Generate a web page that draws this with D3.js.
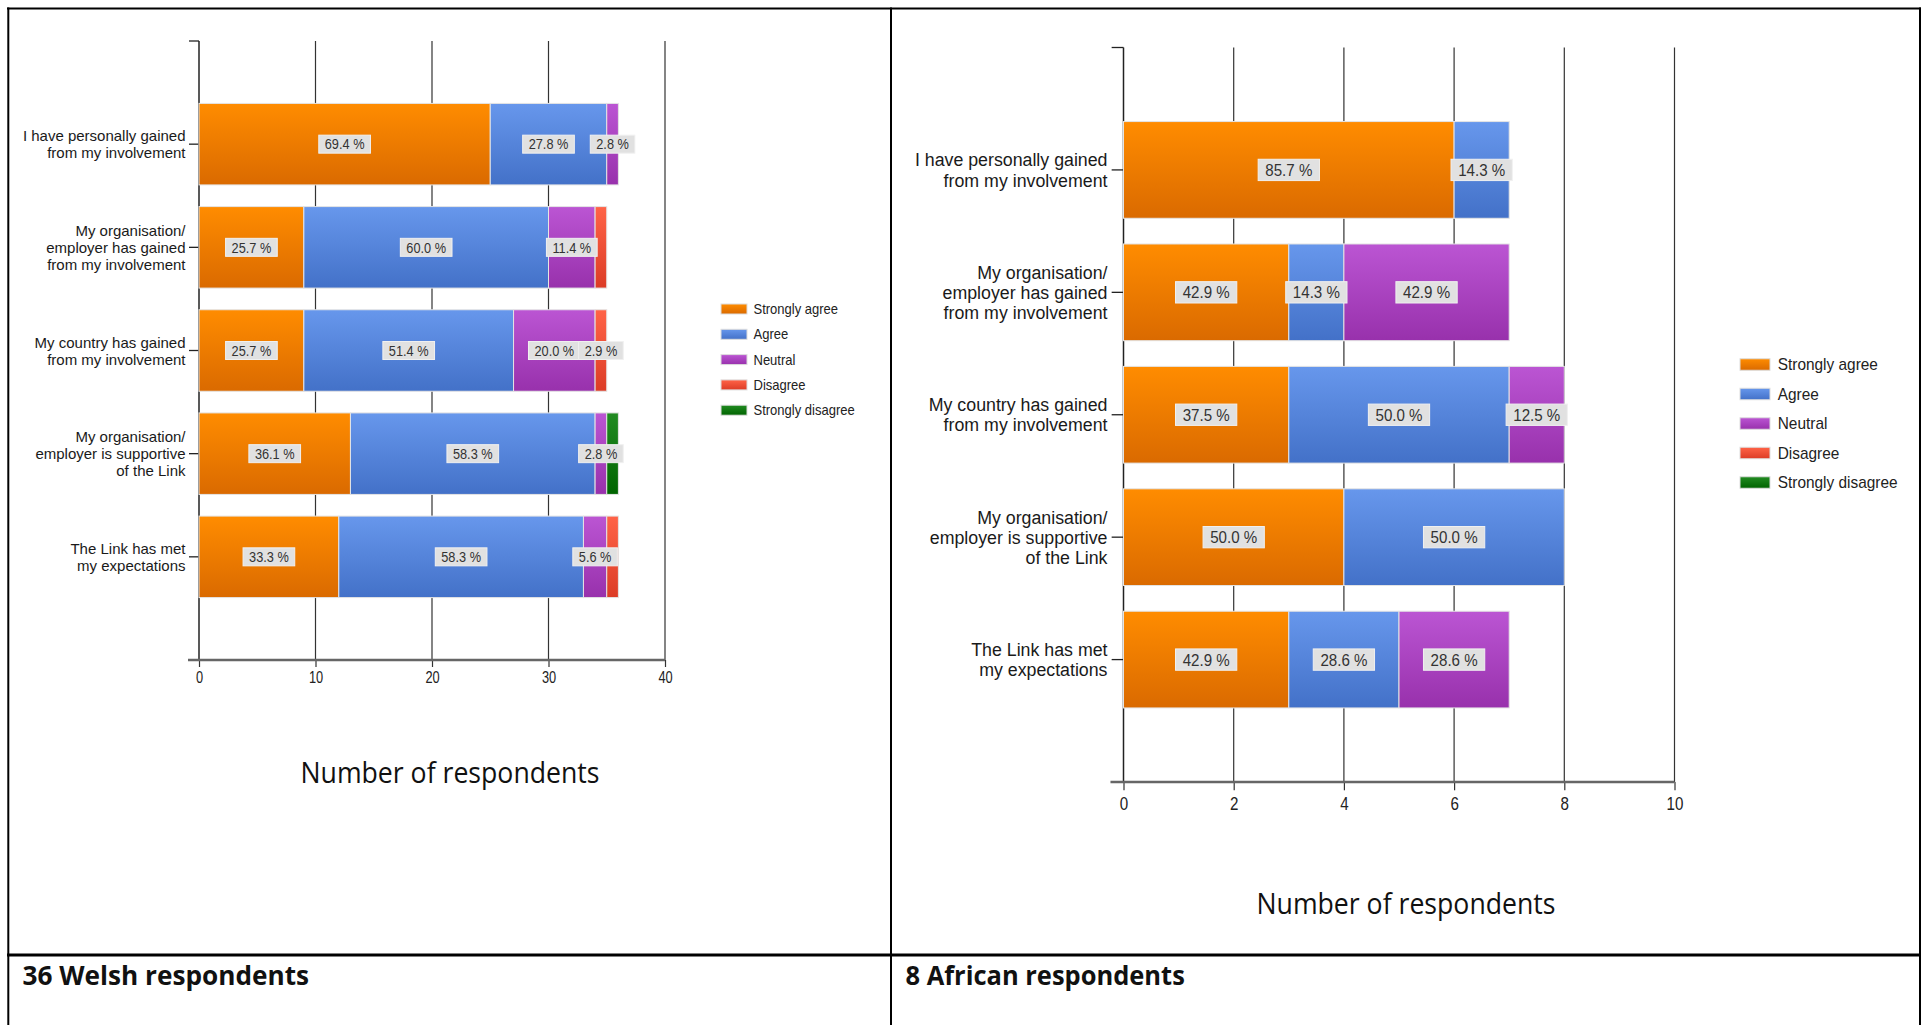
<!DOCTYPE html>
<html>
<head>
<meta charset="utf-8">
<script src="https://cdn.jsdelivr.net/npm/d3@7"></script>
<style>
  body { margin: 0; background: #fff; }
  svg { display: block; }
</style>
</head>
<body>
<div id="chart"></div>
<script>
// ---- data ----
var statements = [
  ["I have personally gained", "from my involvement"],
  ["My organisation/", "employer has gained", "from my involvement"],
  ["My country has gained", "from my involvement"],
  ["My organisation/", "employer is supportive", "of the Link"],
  ["The Link has met", "my expectations"]
];
var responses = ["Strongly agree", "Agree", "Neutral", "Disagree", "Strongly disagree"];

// respondents per statement, in the order of `responses`
var welshCounts = [
  [25, 10, 1, 0, 0],
  [9, 21, 4, 1, 0],
  [9, 18, 7, 1, 0],
  [13, 21, 1, 0, 1],
  [12, 21, 2, 1, 0]
];
var africanCounts = [
  [6, 1, 0, 0, 0],
  [3, 1, 3, 0, 0],
  [3, 4, 1, 0, 0],
  [4, 4, 0, 0, 0],
  [3, 2, 2, 0, 0]
];
var welshTicks = [0, 10, 20, 30, 40];
var africanTicks = [0, 2, 4, 6, 8, 10];
var panelTitles = ["36 Welsh respondents", "8 African respondents"];
var axisTitle = "Number of respondents";

// colours (top / bottom of the gradient)
var topColors = ["#ff8c00", "#6797ec", "#bb55d3", "#ff6347", "#228b22"];
var bottomColors = ["#da6a00", "#4371c8", "#9831ac", "#dc3c26", "#006400"];

var FONT = "'Liberation Sans', Arial, sans-serif";

var svg = d3.select("#chart").append("svg")
  .attr("width", 1925)
  .attr("height", 1025);

var defs = svg.append("defs");
responses.forEach(function(r, i) {
  var grad = defs.append("linearGradient")
    .attr("id", "grad" + i)
    .attr("x1", 0).attr("y1", 0).attr("x2", 0).attr("y2", 1);
  grad.append("stop").attr("offset", "0%").attr("stop-color", topColors[i]);
  grad.append("stop").attr("offset", "100%").attr("stop-color", bottomColors[i]);
});

// squeezed text helper: the source glyphs are a bit narrow
function label(g, x, y, str, size, sx, anchor) {
  return g.append("text")
    .attr("transform", "translate(" + x + "," + y + ") scale(" + sx + ",1)")
    .attr("text-anchor", anchor || "start")
    .style("font-family", FONT)
    .style("font-size", size + "px")
    .attr("fill", "#222")
    .text(str);
}

function drawPanel(cfg) {
  var k = cfg.k;
  var g = svg.append("g");

  var x = d3.scaleLinear()
    .domain([cfg.ticks[0], cfg.ticks[cfg.ticks.length - 1]])
    .range([cfg.x0, cfg.x1]);
  // one empty slot above and below the five bars
  var y = d3.scaleLinear()
    .domain([0, statements.length + 1])
    .range([cfg.top, cfg.bottom]);
  var barH = (y(1) - y(0)) * 0.79;

  // vertical grid lines
  g.append("g").selectAll("line")
    .data(cfg.ticks.slice(1))
    .join("line")
      .attr("x1", function(d) { return x(d); })
      .attr("x2", function(d) { return x(d); })
      .attr("y1", cfg.top)
      .attr("y2", cfg.bottom)
      .attr("stroke", "#333")
      .attr("stroke-width", 1.2);

  // x axis, ticks + labels
  var xAxis = g.append("g")
    .attr("transform", "translate(0," + cfg.bottom + ")")
    .call(d3.axisBottom(x).tickValues(cfg.ticks).tickSize(7 * k).tickPadding(5 * k));
  xAxis.select(".domain").remove();
  xAxis.selectAll(".tick line").attr("stroke", "#333").attr("stroke-width", 1.2);
  xAxis.selectAll(".tick text")
    .attr("transform", "scale(0.8,1)")
    .attr("fill", "#222")
    .style("font-family", FONT)
    .style("font-size", (16 * k) + "px");

  // y axis line and ticks
  g.append("line")
    .attr("x1", cfg.x0).attr("x2", cfg.x0)
    .attr("y1", cfg.top).attr("y2", cfg.bottom)
    .attr("stroke", "#222").attr("stroke-width", 1.5);
  g.append("g").selectAll("line")
    .data(d3.range(0, statements.length + 1))
    .join("line")
      .attr("x1", cfg.x0 - 10 * k).attr("x2", cfg.x0)
      .attr("y1", function(d) { return y(d); })
      .attr("y2", function(d) { return y(d); })
      .attr("stroke", "#222").attr("stroke-width", 1.3);

  // category labels
  statements.forEach(function(lines, i) {
    var cy = y(i + 1);
    var lh = 17 * k;
    lines.forEach(function(line, j) {
      label(g, cfg.x0 - 13.5 * k, cy + (j - (lines.length - 1) / 2) * lh + 5.5 * k,
        line, 15 * k, 1, "end").attr("fill", "#1a1a1a");
    });
  });

  // stacked bars
  var rows = cfg.counts.map(function(c, i) { return { idx: i, c: c, total: d3.sum(c) }; });
  var series = d3.stack()
    .keys(d3.range(responses.length))
    .value(function(d, key) { return d.c[key]; })(rows);

  g.append("g").selectAll("g")
    .data(series)
    .join("g")
      .attr("fill", function(s) { return "url(#grad" + s.key + ")"; })
    .selectAll("rect")
    .data(function(s) { return s.filter(function(d) { return d[1] > d[0]; }); })
    .join("rect")
      .attr("x", function(d) { return x(d[0]); })
      .attr("y", function(d) { return y(d.data.idx + 1) - barH / 2; })
      .attr("width", function(d) { return x(d[1]) - x(d[0]); })
      .attr("height", barH)
      .attr("stroke", "#e4e4e4")
      .attr("stroke-width", 1);

  // percentage labels, skipped when they would collide with the previous one
  var lab = g.append("g");
  rows.forEach(function(row) {
    var lastRight = -Infinity;
    var cy = y(row.idx + 1);
    series.forEach(function(s) {
      var d = s[row.idx];
      if (d[1] <= d[0]) return;
      var txt = (row.c[s.key] / row.total * 100).toFixed(1) + " %";
      var cx = (x(d[0]) + x(d[1])) / 2;
      var box = lab.append("rect");
      var t = label(lab, cx, cy + 5.2 * k, txt, 14.5 * k, 0.88, "middle").attr("fill", "#333");
      var w = t.node().getComputedTextLength() * 0.88 + 12 * k;
      var bh = 18 * k;
      if (cx - w / 2 < lastRight - 5 * k) { box.remove(); t.remove(); return; }
      lastRight = cx + w / 2;
      box.attr("x", cx - w / 2).attr("y", cy - bh / 2)
        .attr("width", w).attr("height", bh)
        .attr("fill", "#e1e1e1").attr("stroke", "#f0f0f0").attr("stroke-width", 1);
      t.raise();
    });
  });

  // heavy x axis baseline
  g.append("line")
    .attr("x1", cfg.x0 - 11 * k).attr("x2", cfg.x1)
    .attr("y1", cfg.bottom).attr("y2", cfg.bottom)
    .attr("stroke", "#666").attr("stroke-width", 2.5);

  // legend
  var leg = g.append("g");
  responses.forEach(function(r, i) {
    var ly = cfg.legY + i * cfg.legStep;
    leg.append("rect")
      .attr("x", cfg.legX).attr("y", ly - cfg.swH / 2)
      .attr("width", cfg.swW).attr("height", cfg.swH)
      .attr("fill", "url(#grad" + i + ")")
      .attr("stroke", "#ddd").attr("stroke-width", 1);
    label(leg, cfg.legX + cfg.swW + 6.5 * k, ly + 5 * k, r, 14 * k, 0.93, "start");
  });

  // axis title
  svg.append("text")
    .attr("x", cfg.titleX).attr("y", cfg.titleY)
    .attr("text-anchor", "middle")
    .attr("textLength", 299).attr("lengthAdjust", "spacingAndGlyphs")
    .style("font-family", "'Open Sans', 'Noto Sans', sans-serif")
    .style("font-size", "29px")
    .attr("fill", "#111")
    .text(axisTitle);
}

drawPanel({
  k: 1, counts: welshCounts, ticks: welshTicks,
  x0: 199, x1: 665, top: 41, bottom: 660,
  legX: 721, legY: 309, legStep: 25.3, swW: 26, swH: 10,
  titleX: 450, titleY: 782.5
});
drawPanel({
  k: 1.185, counts: africanCounts, ticks: africanTicks,
  x0: 1123.5, x1: 1674.5, top: 47.5, bottom: 782,
  legX: 1740, legY: 364.5, legStep: 29.5, swW: 30, swH: 11.5,
  titleX: 1406, titleY: 914.3
});

// panel captions
var capX = [22.5, 905.5];
var capW = [286.6, 279.3];
panelTitles.forEach(function(t, i) {
  svg.append("text")
    .attr("x", capX[i]).attr("y", 985)
    .attr("textLength", capW[i]).attr("lengthAdjust", "spacingAndGlyphs")
    .style("font-family", "'Open Sans', 'Noto Sans', sans-serif")
    .style("font-size", "27px")
    .style("font-weight", "bold")
    .attr("fill", "#111")
    .text(t);
});

// table borders
var border = svg.append("g").attr("stroke", "#000");
border.append("line").attr("x1", 7).attr("x2", 1921).attr("y1", 8.5).attr("y2", 8.5).attr("stroke-width", 2);
border.append("line").attr("x1", 8.3).attr("x2", 8.3).attr("y1", 7.5).attr("y2", 1025).attr("stroke-width", 2);
border.append("line").attr("x1", 891).attr("x2", 891).attr("y1", 7.5).attr("y2", 1025).attr("stroke-width", 2);
border.append("line").attr("x1", 1920).attr("x2", 1920).attr("y1", 7.5).attr("y2", 1025).attr("stroke-width", 2);
border.append("line").attr("x1", 7).attr("x2", 1921).attr("y1", 955).attr("y2", 955).attr("stroke-width", 3);
</script>
</body>
</html>
